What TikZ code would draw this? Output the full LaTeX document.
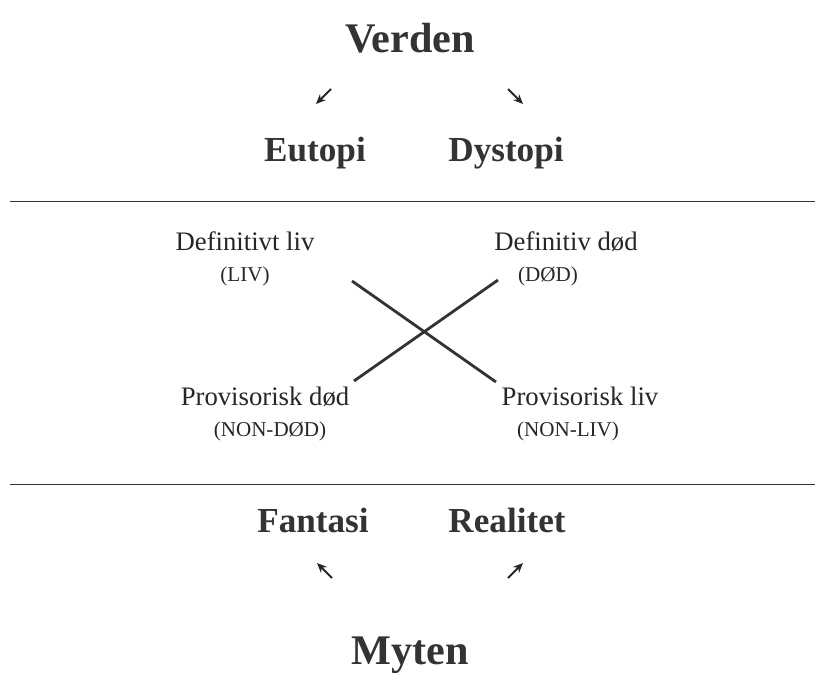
\documentclass[tikz,border=0pt]{standalone}
\usepackage{fontspec}
\setmainfont{Liberation Serif}
\usetikzlibrary{arrows.meta,positioning}
\begin{document}
\begin{tikzpicture}
	[x=0.025cm, y=-0.025cm,
	tittel/.style	={font=\fontsize{30}{32}\selectfont\bfseries, text=black!80, anchor=base, inner sep=0pt},
	pol/.style		={font=\fontsize{25}{27}\selectfont\bfseries, text=black!80, anchor=base, inner sep=0pt},
	tekst/.style	={font=\fontsize{19}{21}\selectfont, text=black!85, anchor=base, inner sep=0pt},
	kode/.style		={font=\fontsize{15}{17}\selectfont, text=black!85, anchor=base, inner sep=0pt},
	pil/.style		={-{Stealth[length=7pt,width=6pt]}, line width=1.4pt, black!85},
	strek/.style	={line width=0.7pt, black!80},
	kryss/.style	={line width=2pt, black!80}]
	\useasboundingbox (0,0) rectangle (819,697);
	\node[tittel]	(verden)	at (410,52)		{Verden};
	\node[pol]		(eutopi)	at (315,161)	{Eutopi};
	\node[pol]		(dystopi)	at (506,161)	{Dystopi};
	\node[tekst]	(deflivt)	at (245,250)	{Definitivt liv};
	\node[kode]		(liv)		at (245,281)	{(LIV)};
	\node[tekst]	(defdod)	at (566,250)	{Definitiv død};
	\node[kode]		(dod)		at (548,281)	{(DØD)};
	\node[tekst]	(provdod)	at (265,405)	{Provisorisk død};
	\node[kode]		(nondod)	at (270,436)	{(NON-DØD)};
	\node[tekst]	(provliv)	at (580,405)	{Provisorisk liv};
	\node[kode]		(nonliv)	at (568,436)	{(NON-LIV)};
	\node[pol]		(fantasi)	at (313,532)	{Fantasi};
	\node[pol]		(realitet)	at (507,532)	{Realitet};
	\node[tittel]	(myten)		at (410,664)	{Myten};
	% piler
	\coordinate (v1) at (331,89);	\coordinate (v2) at (316,104);
	\coordinate (h1) at (508,89);	\coordinate (h2) at (523,104);
	\coordinate (f1) at (332,578);	\coordinate (f2) at (317,563);
	\coordinate (r1) at (508,578);	\coordinate (r2) at (523,563);
	\draw[pil] (v1) -- (v2);
	\draw[pil] (h1) -- (h2);
	\draw[pil] (f1) -- (f2);
	\draw[pil] (r1) -- (r2);
	% streker
	\coordinate (s1) at (10,201);	\coordinate (s2) at (815,201);
	\coordinate (s3) at (10,484);	\coordinate (s4) at (815,484);
	\draw[strek] (s1) -- (s2);
	\draw[strek] (s3) -- (s4);
	% kryss
	\coordinate (k1) at (352,281);	\coordinate (k2) at (496,382);
	\coordinate (k3) at (354,381);	\coordinate (k4) at (498,280);
	\draw[kryss] (k1) -- (k2);
	\draw[kryss] (k3) -- (k4);
\end{tikzpicture}
\end{document}
